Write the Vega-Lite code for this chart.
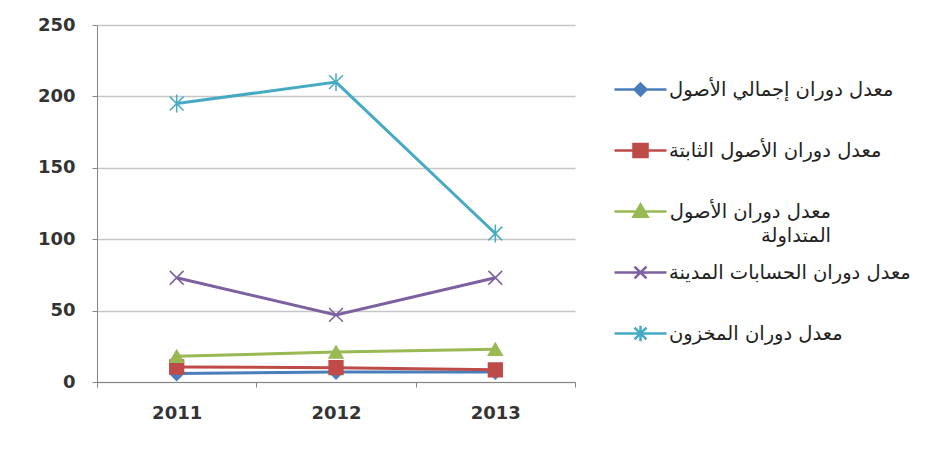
{
  "$schema": "https://vega.github.io/schema/vega-lite/v6.json",
  "width": 478,
  "height": 357,
  "autosize": {"type": "none"},
  "padding": {"left": 97, "top": 25, "right": 353, "bottom": 70},
  "background": "white",
  "config": {"view": {"stroke": null}, "font": "DejaVu Sans"},
  "data": {
    "values": [
      {"year": "2011", "series": "معدل دوران إجمالي الأصول", "value": 6},
      {"year": "2012", "series": "معدل دوران إجمالي الأصول", "value": 7},
      {"year": "2013", "series": "معدل دوران إجمالي الأصول", "value": 7},
      {"year": "2011", "series": "معدل دوران الأصول الثابتة", "value": 10.5},
      {"year": "2012", "series": "معدل دوران الأصول الثابتة", "value": 10},
      {"year": "2013", "series": "معدل دوران الأصول الثابتة", "value": 8.5},
      {"year": "2011", "series": "معدل دوران الأصول المتداولة", "value": 18},
      {"year": "2012", "series": "معدل دوران الأصول المتداولة", "value": 21},
      {"year": "2013", "series": "معدل دوران الأصول المتداولة", "value": 23},
      {"year": "2011", "series": "معدل دوران الحسابات المدينة", "value": 73},
      {"year": "2012", "series": "معدل دوران الحسابات المدينة", "value": 47},
      {"year": "2013", "series": "معدل دوران الحسابات المدينة", "value": 73},
      {"year": "2011", "series": "معدل دوران المخزون", "value": 195},
      {"year": "2012", "series": "معدل دوران المخزون", "value": 210},
      {"year": "2013", "series": "معدل دوران المخزون", "value": 104}
    ]
  },
  "encoding": {
    "x": {
      "field": "year",
      "type": "ordinal",
      "sort": ["2011", "2012", "2013"],
      "scale": {"type": "band", "paddingInner": 0, "paddingOuter": 0},
      "axis": {
        "title": null,
        "labelAngle": 0,
        "tickBand": "extent",
        "domainColor": "#868686",
        "tickColor": "#868686",
        "tickSize": 5,
        "labelFont": "DejaVu Sans",
        "labelFontWeight": "bold",
        "labelFontSize": 18,
        "labelColor": "#333333",
        "labelPadding": 17,
        "grid": false
      }
    },
    "y": {
      "field": "value",
      "type": "quantitative",
      "scale": {"domain": [0, 250], "nice": false},
      "axis": {
        "title": null,
        "values": [0, 50, 100, 150, 200, 250],
        "grid": true,
        "gridColor": "#c6c6c6",
        "gridWidth": 1.5,
        "domainColor": "#868686",
        "tickColor": "#868686",
        "tickSize": 5,
        "labelFont": "DejaVu Sans",
        "labelFontWeight": "bold",
        "labelFontSize": 18,
        "labelColor": "#333333",
        "labelPadding": 17
      }
    }
  },
  "layer": [
    {
      "mark": {"type": "line", "strokeWidth": 3},
      "encoding": {
        "stroke": {
          "field": "series",
          "type": "nominal",
          "sort": null,
          "legend": null,
          "scale": {"range": ["#4A7EBB", "#BE4B48", "#98B954", "#7D60A0", "#46AAC5"]}
        }
      }
    },
    {
      "mark": {"type": "point", "filled": false, "size": 190, "strokeWidth": 1.5, "opacity": 1},
      "encoding": {
        "stroke": {"field": "series", "type": "nominal", "sort": null, "legend": null},
        "shape": {
          "field": "series",
          "type": "nominal",
          "sort": null,
          "legend": null,
          "scale": {"range": ["diamond", "square", "triangle-up", "M-1,-1L1,1M-1,1L1,-1", "M-1,-1L1,1M-1,1L1,-1M0,-1.3V1.3"]}
        },
        "fill": {
          "field": "series",
          "type": "nominal",
          "scale": {
            "domain": ["معدل دوران إجمالي الأصول", "معدل دوران الأصول الثابتة", "معدل دوران الأصول المتداولة", "معدل دوران الحسابات المدينة", "معدل دوران المخزون"],
            "range": ["#4A7EBB", "#BE4B48", "#98B954", "#7D60A0", "#46AAC5"]
          },
          "legend": {
            "title": null,
            "orient": "right",
            "offset": 1,
            "padding": 37,
            "rowPadding": 0,
            "gridAlign": "all",
            "symbolSize": 2704,
            "symbolStrokeWidth": 2.5,
            "symbolOpacity": 1,
            "labelFont": "DejaVu Sans",
            "labelFontSize": 19.5,
            "labelColor": "#222222",
            "labelLimit": 320,
            "labelOffset": 1,
            "labelExpr": "datum.value == 'معدل دوران الأصول المتداولة' ? ['معدل دوران الأصول', 'المتداولة'] : datum.label",
            "encode": {
              "symbols": {
                "update": {
                  "stroke": {"scale": "fill", "field": "value"},
                  "strokeWidth": {"value": 2.5},
                  "shape": {"signal": "datum.value == 'معدل دوران إجمالي الأصول' ? 'M-1,0H1M0,-0.23L0.23,0L0,0.23L-0.23,0Z' : datum.value == 'معدل دوران الأصول الثابتة' ? 'M-1,0H1M-0.27,-0.25H0.27V0.25H-0.27Z' : datum.value == 'معدل دوران الأصول المتداولة' ? 'M-1,0H1M0,-0.27L0.27,0.2H-0.27Z' : datum.value == 'معدل دوران الحسابات المدينة' ? 'M-1,0H1M-0.23,-0.23L0.23,0.23M-0.23,0.23L0.23,-0.23' : 'M-1,0H1M-0.23,-0.23L0.23,0.23M-0.23,0.23L0.23,-0.23M0,-0.3V0.3'"}
                }
              },
              "labels": {
                "update": {
                  "lineHeight": {"value": 24},
                  "align": {"signal": "datum.value == 'معدل دوران الأصول المتداولة' ? 'right' : 'left'"},
                  "dx": {"signal": "datum.value == 'معدل دوران الأصول المتداولة' ? 162 : 0"}
                }
              }
            }
          }
        }
      }
    }
  ],
  "resolve": {"scale": {"stroke": "shared"}}
}
